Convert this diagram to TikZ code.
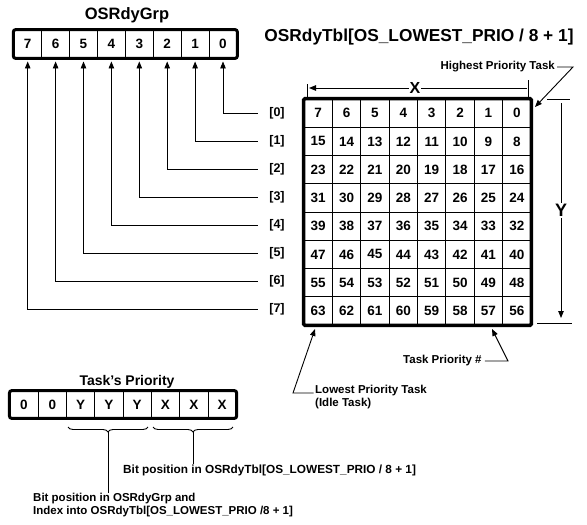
\documentclass[tikz,border=0pt]{standalone}
\usepackage{fontspec}
\setmainfont{Liberation Sans}
\usetikzlibrary{arrows.meta,decorations.pathreplacing,calc}
\begin{document}
\begin{tikzpicture}[x=1pt,y=-1pt,
  bitcell/.style={draw, line width=0.9pt, minimum width=27.9pt, minimum height=28pt, inner sep=0pt, font=\bfseries\fontsize{13.5}{13.5}\selectfont},
  gridcell/.style={draw, line width=0.9pt, minimum width=28.375pt, minimum height=28.25pt, inner sep=0pt, font=\bfseries\fontsize{13.5}{13.5}\selectfont},
  prio/.style={draw, line width=0.9pt, minimum width=28.3pt, minimum height=27pt, inner sep=0pt, font=\bfseries\fontsize{13.5}{13.5}\selectfont},
  frame/.style={line width=3pt, rounded corners=2.5pt},
  gframe/.style={line width=3.5pt, rounded corners=1.5pt},
  conn/.style={line width=0.9pt},
  arr/.style={conn, -{Triangle[length=7pt,width=5.5pt]}},
  rowlab/.style={minimum width=38pt, inner sep=0pt, font=\bfseries\fontsize{12.5}{12.5}\selectfont},
  lbl/.style={inner sep=0pt, font=\bfseries\fontsize{11.5}{12.5}\selectfont},
]
\useasboundingbox (0,0) rectangle (587,525);

% titles
\node[font=\bfseries\fontsize{16.5}{16.5}\selectfont] (t1) at (127,15) {OSRdyGrp};
\node[font=\bfseries\fontsize{17.3}{17.3}\selectfont] (t2) at (419,37) {OSRdyTbl[OS\_LOWEST\_PRIO / 8 + 1]};

% ready table grid
\foreach \r in {0,...,7}{
  \foreach \c in {0,...,7}{
    \pgfmathtruncatemacro{\n}{8*\r+\c}
    \node[gridcell] (g-\r-\c) at ({318.19+28.375*(7-\c)},{113.125+28.25*\r}) {\n};
  }
}
\draw[gframe] (g-0-7.north west) rectangle (g-7-0.south east);

% OSRdyGrp bits, row labels and connectors
\foreach \b in {0,...,7}{
  \node[bitcell] (b\b) at ({223-27.9*\b},44) {\b};
  \node[rowlab] (l\b) at (277,{113+28.1*\b}) {[\b]};
}
\draw[frame] (b7.north west) rectangle (b0.south east);
\foreach \b in {0,...,7}{
  \draw[arr] (l\b.west) -| ([yshift=-3pt]b\b.south);
}

% X dimension
\coordinate (xr) at (527,88);
\coordinate (xl) at (309,88);
\draw[arr] (xr) -- node[pos=0.514, fill=white, inner sep=1pt, font=\bfseries\fontsize{16}{16}\selectfont] (xlab) {X} (xl);
\coordinate (xt1a) at (307,84); \coordinate (xt1b) at (307,97);
\coordinate (xt2a) at (528,80); \coordinate (xt2b) at (528,100);
\draw[conn] (xt1a) -- (xt1b);
\draw[conn] (xt2a) -- (xt2b);

% Y dimension
\coordinate (yt) at (561,103);
\coordinate (yb) at (561,318);
\draw[arr] (yt) -- node[fill=white, inner sep=1pt, font=\bfseries\fontsize{18}{18}\selectfont] (ylab) {Y} (yb);
\coordinate (yt1a) at (547,99); \coordinate (yt1b) at (570,99);
\coordinate (yt2a) at (537,323); \coordinate (yt2b) at (572,323);
\draw[conn] (yt1a) -- (yt1b);
\draw[conn] (yt2a) -- (yt2b);

% Highest priority task
\node[lbl, anchor=east] (hp) at (555,67) {Highest Priority Task};
\coordinate (hpc) at (573,67);
\coordinate (hpt) at (535,107);
\draw[arr] ([xshift=2pt]hp.east) -- (hpc) -- (hpt);

% Task priority #
\node[lbl, anchor=west] (tpn) at (403,361) {Task Priority \#};
\coordinate (tpc) at (508,361);
\coordinate (tpt) at (492,329);
\draw[arr] ([xshift=3pt]tpn.east) -- (tpc) -- (tpt);

% Lowest priority task
\node[lbl, anchor=north west, align=left] (lp) at (315,385) {Lowest Priority Task\\(Idle Task)};
\coordinate (lpc) at (293,393);
\coordinate (lpt) at (315,329);
\draw[arr] ([xshift=-1.5pt]lp.west |- lpc) -- (lpc) -- (lpt);

% Task's priority
\node[font=\bfseries\fontsize{14}{14}\selectfont] (tpt2) at (127,382) {Task's Priority};
\foreach [count=\i from 0] \v in {0,0,Y,Y,Y,X,X,X}{
  \node[prio] (p\i) at ({24+28.3*\i},404.5) {\v};
}
\draw[frame] (p0.north west) rectangle (p7.south east);

% braces
\coordinate (ya) at (68,427); \coordinate (yz) at (148,427); \coordinate (ytip) at (108,432);
\coordinate (xa) at (153,427); \coordinate (xz) at (233,427); \coordinate (xtip) at (193,432);
\draw[conn, decorate, decoration={brace, mirror, amplitude=5pt}] (ya) -- (yz);
\draw[conn, decorate, decoration={brace, mirror, amplitude=5pt}] (xa) -- (xz);

\node[lbl, anchor=west, font=\bfseries\fontsize{11.8}{12.5}\selectfont] (bx) at (123,470) {Bit position in OSRdyTbl[OS\_LOWEST\_PRIO / 8 + 1]};
\node[lbl, anchor=north west, align=left] (by) at (33,493) {Bit position in OSRdyGrp and\\Index into OSRdyTbl[OS\_LOWEST\_PRIO /8 + 1]};
\draw[conn] (xtip) -- (xtip |- bx.north);
\draw[conn] (ytip) -- (ytip |- by.north);
\end{tikzpicture}
\end{document}
